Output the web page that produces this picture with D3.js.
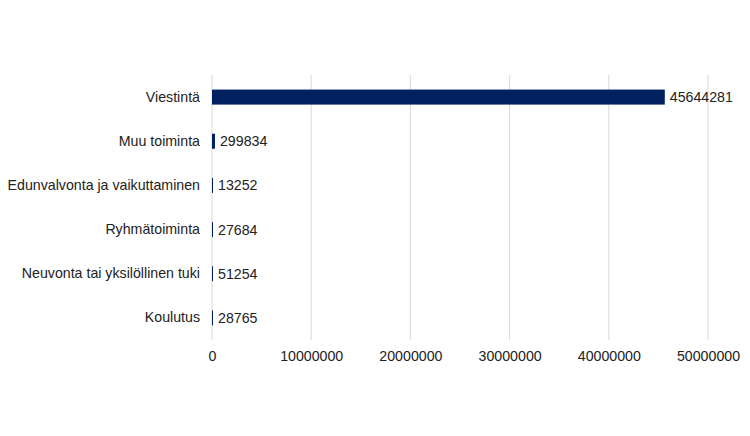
<!DOCTYPE html>
<html><head><meta charset="utf-8">
<script src="https://cdn.jsdelivr.net/npm/d3@7"></script>
<style>body{margin:0;background:#fff;} text{font-family:"Liberation Sans",Arial,sans-serif;}</style>
</head><body>
<svg id="chart" width="750" height="436"></svg>
<script>
const categories = ["Viestintä","Muu toiminta","Edunvalvonta ja vaikuttaminen","Ryhmätoiminta","Neuvonta tai yksilöllinen tuki","Koulutus"];
const values = [45644281, 299834, 13252, 27684, 51254, 28765];
const tickValues = [0, 10000000, 20000000, 30000000, 40000000, 50000000];

(function () {
const svg = d3.select("#chart");
const mLeft = 212, mRight = 708, mTop = 75, mBottom = 340;
const fs = 14.2;
const x = d3.scaleLinear().domain([0, 50000000]).range([mLeft, mRight]);
const y = d3.scaleBand().domain(categories).range([mTop, mBottom]).paddingInner(0.66).paddingOuter(0.33);

// gridlines
svg.append("g").selectAll("line").data(tickValues).join("line")
  .attr("x1", d => x(d)).attr("x2", d => x(d))
  .attr("y1", mTop).attr("y2", mBottom)
  .attr("stroke", "#d9d9d9").attr("stroke-width", 1);

// x axis labels
const xAxis = d3.axisBottom(x).tickValues(tickValues).tickFormat(d3.format("d")).tickSize(0).tickPadding(0);
const gx = svg.append("g").attr("transform", `translate(0,${mBottom + 11})`).call(xAxis);
gx.select(".domain").remove();
gx.selectAll("text").attr("font-size", fs).attr("fill", "#222").attr("dy", "0.71em")
  .style("font-family", '"Liberation Sans",Arial,sans-serif');

// y axis labels
const yAxis = d3.axisLeft(y).tickSize(0).tickPadding(12);
const gy = svg.append("g").attr("transform", `translate(${mLeft},0)`).call(yAxis);
gy.select(".domain").remove();
gy.selectAll("text").attr("font-size", fs).attr("fill", "#222")
  .style("font-family", '"Liberation Sans",Arial,sans-serif');

const data = categories.map((c, i) => ({c, v: values[i]}));

// bars
svg.append("g").selectAll("rect").data(data).join("rect")
  .attr("x", x(0))
  .attr("y", d => y(d.c))
  .attr("width", d => Math.max(1, x(d.v) - x(0)))
  .attr("height", y.bandwidth())
  .attr("fill", "#002060");

// value labels
svg.append("g").selectAll("text").data(data).join("text")
  .attr("x", d => x(0) + Math.max(1, x(d.v) - x(0)) + 5)
  .attr("y", d => y(d.c) + y.bandwidth() / 2)
  .attr("dy", "0.35em")
  .attr("font-size", fs).attr("fill", "#222")
  .text(d => d.v);
})();
</script>
</body></html>
